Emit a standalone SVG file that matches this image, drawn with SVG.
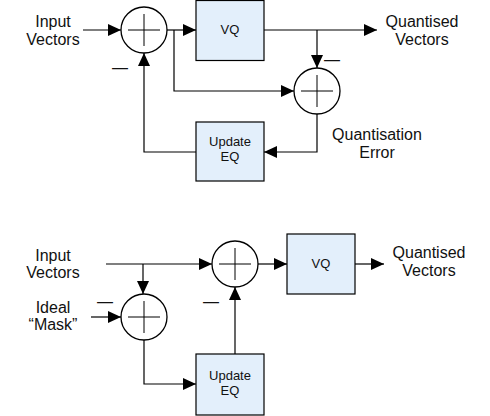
<svg xmlns="http://www.w3.org/2000/svg" width="490" height="416" viewBox="0 0 490 416">
<style>
text{font-family:"Liberation Sans",Arial,sans-serif;fill:#111;}
.lbl{font-size:16px;text-anchor:middle;}
.box{fill:#e3effb;stroke:#000;stroke-width:1.2;}
.btxt{font-size:13px;text-anchor:middle;}
.sum{fill:#fff;stroke:#000;stroke-width:1.3;}
.x{stroke:#000;stroke-width:1;}
.c{fill:none;stroke:#000;stroke-width:1.2;}
.ca{fill:none;stroke:#000;stroke-width:1.2;marker-end:url(#ah);}
</style>
<defs>
<marker id="ah" markerUnits="userSpaceOnUse" markerWidth="14" markerHeight="12" refX="13" refY="6" orient="auto">
<path d="M0,0 L13,6 L0,12 z" fill="#000"/>
</marker>
</defs>
<rect width="490" height="416" fill="#fff"/>

<g id="connectors">
<!-- top -->
<path class="ca" d="M83,30 H121"/>
<path class="ca" d="M167,30 H196"/>
<path class="ca" d="M174,30 V91 H294"/>
<path class="ca" d="M264,30 H377"/>
<path class="ca" d="M317,30 V68"/>
<path class="ca" d="M317,114 V152 H264"/>
<path class="ca" d="M196,152 H144 V53"/>
<!-- bottom -->
<path class="ca" d="M106,264 H212"/>
<path class="ca" d="M143,264 V294"/>
<path class="ca" d="M91,317 H121"/>
<path class="ca" d="M144,340 V384 H196"/>
<path class="ca" d="M235,354 V287"/>
<path class="ca" d="M258,264 H287"/>
<path class="ca" d="M355,264 H384"/>
</g>

<g id="sum1"><circle class="sum" cx="144" cy="30" r="23"/><path class="x" d="M128,30 H160 M144,14 V46"/></g>
<g id="vq1"><rect class="box" x="196" y="0.5" width="68" height="60"/><text class="btxt" x="230" y="34">VQ</text></g>
<g id="sum2"><circle class="sum" cx="317" cy="91" r="23"/><path class="x" d="M301,91 H333 M317,75 V107"/></g>
<g id="upd1"><rect class="box" x="196" y="122" width="68" height="59"/><text class="btxt" x="230" y="146">Update</text><text class="btxt" x="230" y="161">EQ</text></g>

<g id="sum3"><circle class="sum" cx="235" cy="264" r="23"/><path class="x" d="M219,264 H251 M235,248 V280"/></g>
<g id="sum4"><circle class="sum" cx="144" cy="317" r="23"/><path class="x" d="M128,317 H160 M144,301 V333"/></g>
<g id="vq2"><rect class="box" x="287" y="234" width="68" height="60"/><text class="btxt" x="321" y="268">VQ</text></g>
<g id="upd2"><rect class="box" x="196" y="354" width="68" height="61"/><text class="btxt" x="230" y="380">Update</text><text class="btxt" x="230" y="395">EQ</text></g>

<g id="labels">
<text class="lbl" x="53" y="27">Input</text>
<text class="lbl" x="53" y="45">Vectors</text>
<text class="lbl" x="422" y="27">Quantised</text>
<text class="lbl" x="422" y="45">Vectors</text>
<text class="lbl" x="377" y="140">Quantisation</text>
<text class="lbl" x="377" y="158">Error</text>
<text class="lbl" x="120" y="73">—</text>
<text class="lbl" x="332" y="65">—</text>

<text class="lbl" x="53" y="261">Input</text>
<text class="lbl" x="53" y="278">Vectors</text>
<text class="lbl" x="53" y="313">Ideal</text>
<text class="lbl" x="53" y="330">“Mask”</text>
<text class="lbl" x="429" y="258">Quantised</text>
<text class="lbl" x="429" y="276">Vectors</text>
<text class="lbl" x="105" y="307">—</text>
<text class="lbl" x="211" y="307">—</text>
</g>
</svg>
